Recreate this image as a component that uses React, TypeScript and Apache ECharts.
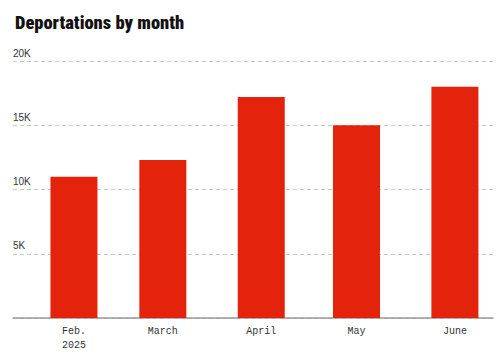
import React, { useEffect, useRef } from "react";
import * as echarts from "echarts";

const monthLabels = ["Feb.\n2025", "March", "April", "May", "June"];
// day of year (2025) of each month's start
const monthStartDay = [31, 59, 90, 120, 151];
const deportations = [11000, 12300, 17200, 15000, 18000];
const yTicks = [0, 5000, 10000, 15000, 20000];
const yTickLabels = ["", "5K", "10K", "15K", "20K"];

export default function App() {
  const ref = useRef<HTMLDivElement>(null);
  useEffect(() => {
    document.body.style.margin = "0";
    if (!ref.current) return;
    const chart = echarts.init(ref.current, null, { renderer: "svg" });
    const xs = monthStartDay;
    chart.setOption({
      animation: false,
      title: {
        text: "Deportations by month",
        left: 10,
        top: 8,
        textStyle: {
          fontFamily: "'Liberation Sans Narrow', 'Roboto Condensed', Roboto, sans-serif",
          fontWeight: 900,
          fontSize: 18.5,
          color: "#111",
        },
      },
      grid: { left: 13, right: 7, top: 61, bottom: 35, containLabel: false },
      xAxis: {
        type: "value",
        min: xs[0] - 19.2,
        max: xs[4] + 12,
        axisLine: { show: true, lineStyle: { color: "#999", width: 1.5 } },
        axisTick: { show: false },
        splitLine: { show: false },
        axisLabel: {
          customValues: xs,
          formatter: (v: number) => {
            const i = xs.indexOf(v);
            return i >= 0 ? monthLabels[i] : "";
          },
          fontFamily: "'Liberation Mono', 'DejaVu Sans Mono', monospace",
          fontSize: 10,
          color: "#333",
          margin: 6,
          lineHeight: 14,
          hideOverlap: false,
        },
      },
      yAxis: {
        type: "value",
        min: 0,
        max: 20000,
        interval: 5000,
        axisLine: { show: false },
        axisTick: { show: false },
        splitLine: { show: true, lineStyle: { color: "#c8c8c8", type: [4, 3], width: 1 } },
        axisLabel: {
          inside: true,
          margin: 0,
          align: "left",
          verticalAlign: "bottom",
          padding: [0, 0, 3, 0],
          fontFamily: "'Liberation Sans', Arial, sans-serif",
          fontSize: 10,
          color: "#333",
          formatter: (v: number) => {
            const i = yTicks.indexOf(v);
            return i >= 0 ? yTickLabels[i] : "";
          },
        },
      },
      series: [
        {
          type: "bar",
          data: xs.map((x, i) => [x, deportations[i]]),
          barWidth: 47,
          itemStyle: { color: "#e3230b" },
        },
      ],
    });
    return () => chart.dispose();
  }, []);
  return <div ref={ref} style={{ width: 500, height: 353 }} />;
}
